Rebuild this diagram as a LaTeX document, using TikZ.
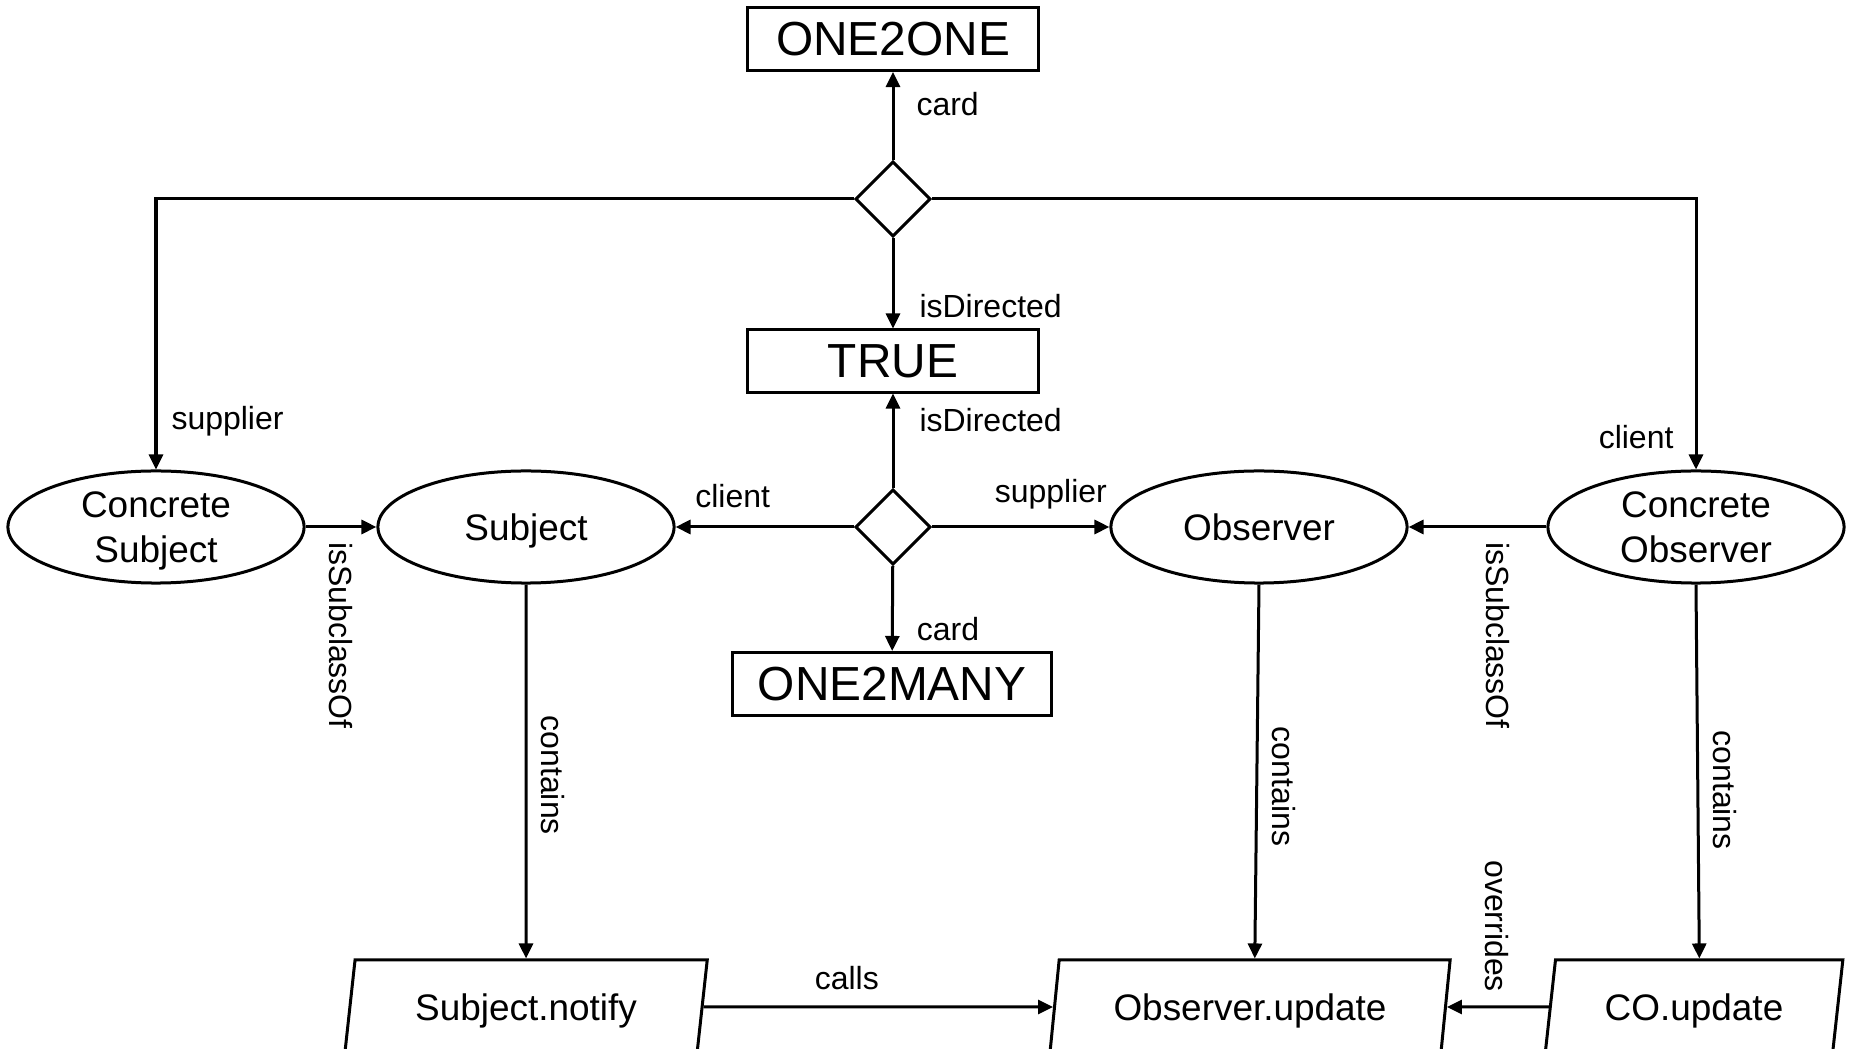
\documentclass[tikz,border=0pt]{standalone}
\usepackage{fontspec}
\setmainfont{Liberation Sans}
\usetikzlibrary{shapes.geometric,arrows.meta}

\begin{document}
\begin{tikzpicture}[x=0.01cm, y=-0.01cm, line width=0.03cm,
  >={Triangle[length=0.15cm,width=0.14cm]},
  value/.style={draw, rectangle, minimum height=0.63cm, inner sep=0pt, font=\fontsize{13.6}{15}\selectfont},
  concept/.style={draw, ellipse, minimum width=2.96cm, minimum height=1.12cm, inner sep=0pt, align=center, text depth=0pt, font=\fontsize{10.5}{12.8}\selectfont},
  relation/.style={draw, diamond, minimum width=0.75cm, minimum height=0.75cm, inner sep=0pt},
  method/.style={draw, trapezium, trapezium left angle=76, trapezium right angle=104, trapezium stretches=true, minimum height=0.94cm, inner sep=0pt, text depth=0pt, font=\fontsize{10.5}{12.8}\selectfont},
  lbl/.style={inner sep=0pt, font=\fontsize{9.1}{11}\selectfont},
  vlbl/.style={lbl, rotate=-90, outer sep=0.15cm}]
\clip[use as bounding box] (0,0) rectangle (1850,1049);

% relation diamonds
\node[relation] (rel-top) at (893,199) {};
\node[relation] (rel-mid) at (893,527) {};

% values
\node[value, minimum width=2.90cm] (one2one) at (893,39) {ONE2ONE}
  edge [<-] node[lbl, pos=.36, right=0.22cm] {card} (rel-top);
\node[value, minimum width=2.90cm, minimum height=0.62cm] (directed) at (893,361) {TRUE}
  edge [<-] node[lbl, pos=.25, right=0.25cm] {isDirected} (rel-top)
  edge [<-] node[lbl, pos=.28, right=0.25cm] {isDirected} (rel-mid);
\node[value, minimum width=3.18cm] (one2many) at (892,684) {ONE2MANY}
  edge [<-] node[lbl, pos=.26, right=0.23cm] {card} (rel-mid);

% classes
\node[concept] (subject) at (526,527) {Subject}
  edge [<-] node[lbl, pos=.32, above=0.18cm] {client} (rel-mid);
\node[concept] (observer) at (1259,527) {Observer}
  edge [<-] node[lbl, pos=.33, above=0.16cm] {supplier} (rel-mid);
\node[concept] (concrete-subject) at (156,527) {Concrete\\Subject}
  edge [->] node[vlbl, midway, anchor=west] {isSubclassOf} (subject);
\node[concept] (concrete-observer) at (1696,527) {Concrete\\Observer}
  edge [->] node[vlbl, pos=.35, anchor=west] {isSubclassOf} (observer);
\draw [->] (rel-top) -| node[lbl, pos=.91, right=0.14cm] {supplier} (concrete-subject);
\draw [->] (rel-top) -| node[lbl, pos=.94, left=0.21cm] {client} (concrete-observer);

% methods
\node[method, minimum width=3.64cm] (subject-notify) at (526,1007) {Subject.notify}
  edge [<-] node[vlbl, pos=.49, anchor=south] {contains} (subject);
\node[method, minimum width=4.03cm] (observer-update) at (1250,1007) {Observer.update}
  edge [<-] node[lbl, pos=.59, above=0.16cm] {calls} (subject-notify);
\node[method, minimum width=2.98cm] (co-update) at (1694,1007) {CO.update}
  edge [->] node[vlbl, pos=.51, anchor=east] {overrides} (observer-update);
\draw [->] (observer.south) -- node[vlbl, pos=.54, anchor=south] {contains} (observer-update.top side);
\draw [->] (concrete-observer.south) -- node[vlbl, pos=.55, anchor=south] {contains} (co-update.top side);
\end{tikzpicture}
\end{document}
